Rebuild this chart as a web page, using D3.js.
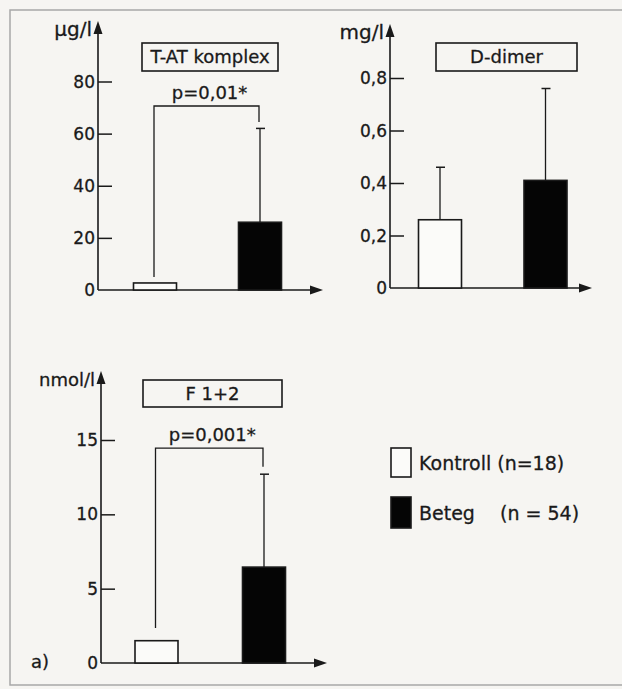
<!DOCTYPE html>
<meta charset="utf-8">
<script src="https://d3js.org/d3.v7.min.js"></script>
<style>
  body { margin: 0; background: #f6f5f2; }
  text { font-family: "DejaVu Sans", sans-serif; fill: #1a1a1a; stroke: #1a1a1a; stroke-width: 0.3px; }
</style>
<div id="chart"></div>
<script>

// groups (bars) in every panel
var groups = ["Kontroll", "Beteg"];

// T-AT komplex (µg/l)
var tatMean = [2.7, 26];
var tatTop = [null, 62];
var tatTicks = [0, 20, 40, 60, 80];

// D-dimer (mg/l)
var ddMean = [0.26, 0.41];
var ddTop = [0.46, 0.76];
var ddTicks = [0, 0.2, 0.4, 0.6, 0.8];

// F 1+2 (nmol/l)
var fMean = [1.5, 6.45];
var fTop = [null, 12.7];
var fTicks = [0, 5, 10, 15];

// legend
var legendLabels = ["Kontroll (n=18)", "Beteg"];
var legendN = [null, "(n = 54)"];

var W = 622, H = 689;
var svg = d3.select("#chart").append("svg")
    .attr("width", W).attr("height", H);

// page frame
svg.append("path")
    .attr("d", "M622,10 H10 V685 H622")
    .attr("fill", "none").attr("stroke", "#a8a8a8").attr("stroke-width", 1.5);

var ink = "#1a1a1a";
var fmt = function(d) { return d === 0 ? "0" : d3.format("")(d).replace(".", ","); };

function panel(p) {
  var g = svg.append("g");

  var y = d3.scaleLinear().domain([0, p.ymax]).range([p.zeroY, p.topY]);
  var x = d3.scalePoint().domain(groups).range([p.axisX + p.c0, p.axisX + p.c1]);
  var bw = 43;

  // ticks (inside)
  var axis = d3.axisRight(y).tickValues(p.ticks).tickSize(14).tickFormat("");
  var ag = g.append("g").attr("transform", "translate(" + p.axisX + ",0)").call(axis);
  ag.select(".domain").remove();
  ag.selectAll("line").attr("stroke", ink).attr("stroke-width", 1.5);
  ag.selectAll(".tick").filter(function(d) { return d === 0; }).select("line").remove();

  g.selectAll(".tl").data(p.ticks).enter().append("text")
      .attr("x", p.axisX - 3).attr("y", function(d) { return y(d); })
      .attr("dy", "0.36em").attr("text-anchor", "end")
      .style("font-size", "17px").text(fmt);

  // axes with arrows
  g.append("line").attr("x1", p.axisX).attr("x2", p.axisX)
      .attr("y1", p.zeroY).attr("y2", p.arrowY + 8)
      .attr("stroke", ink).attr("stroke-width", 1.6);
  g.append("path")
      .attr("d", "M" + p.axisX + "," + p.arrowY + " l-4.5,13 h9 Z").attr("fill", ink);
  g.append("line").attr("x1", p.axisX).attr("x2", p.xEnd - 8)
      .attr("y1", p.zeroY).attr("y2", p.zeroY)
      .attr("stroke", ink).attr("stroke-width", 1.6);
  g.append("path")
      .attr("d", "M" + p.xEnd + "," + p.zeroY + " l-13,-4.5 v9 Z").attr("fill", ink);

  // unit label
  g.append("text").attr("x", p.axisX - 6).attr("y", p.arrowY + 15)
      .attr("text-anchor", "end").style("font-size", p.unitSize + "px").text(p.unit);

  // title box
  g.append("rect").attr("x", p.box[0]).attr("y", p.box[1])
      .attr("width", p.box[2]).attr("height", p.box[3])
      .attr("fill", "none").attr("stroke", ink).attr("stroke-width", 1.6);
  g.append("text").attr("x", p.box[0] + p.box[2] / 2).attr("y", p.box[1] + p.box[3] / 2)
      .attr("dy", "0.36em").attr("text-anchor", "middle")
      .style("font-size", "18px").text(p.title);

  // error bars
  groups.forEach(function(k, i) {
    if (p.top[i] == null) return;
    g.append("line").attr("x1", x(k)).attr("x2", x(k))
        .attr("y1", y(p.mean[i])).attr("y2", y(p.top[i]))
        .attr("stroke", ink).attr("stroke-width", 1.3);
    g.append("line").attr("x1", x(k) - 4).attr("x2", x(k) + 5)
        .attr("y1", y(p.top[i])).attr("y2", y(p.top[i]))
        .attr("stroke", ink).attr("stroke-width", 1.5);
  });

  // bars
  g.selectAll(".bar").data(groups).enter().append("rect")
      .attr("x", function(k) { return x(k) - bw / 2; })
      .attr("y", function(k, i) { return y(p.mean[i]); })
      .attr("width", bw)
      .attr("height", function(k, i) { return p.zeroY - y(p.mean[i]); })
      .attr("fill", function(k, i) { return i === 0 ? "#fbfbf9" : "#050505"; })
      .attr("stroke", ink).attr("stroke-width", 1.6);

  // significance bracket
  if (p.sig) {
    var s = p.sig;
    g.append("path")
        .attr("d", "M" + (x(groups[0]) - 1) + "," + y(s.left) +
                   " V" + y(s.y) + " H" + (x(groups[1]) - 1) + " V" + y(s.right))
        .attr("fill", "none").attr("stroke", ink).attr("stroke-width", 1.3);
    g.append("text")
        .attr("x", (x(groups[0]) + x(groups[1])) / 2 + 2).attr("y", y(s.y) - 7)
        .attr("text-anchor", "middle").style("font-size", "18px")
        .text(s.label);
  }
}

panel({ axisX: 98, zeroY: 290, topY: 81.5, ymax: 80, arrowY: 21, xEnd: 323, c0: 57, c1: 162,
        ticks: tatTicks, mean: tatMean, top: tatTop, unit: "µg/l", unitSize: 20,
        title: "T-AT komplex", box: [142, 43, 136, 28],
        sig: { y: 70.6, left: 5, right: 64.5, label: "p=0,01*" } });

panel({ axisX: 390, zeroY: 288, topY: 78, ymax: 0.8, arrowY: 24, xEnd: 592, c0: 50, c1: 155.5,
        ticks: ddTicks, mean: ddMean, top: ddTop, unit: "mg/l", unitSize: 20,
        title: "D-dimer", box: [436, 43, 141, 28] });

panel({ axisX: 101, zeroY: 663, topY: 440, ymax: 15, arrowY: 371, xEnd: 327, c0: 55.5, c1: 163,
        ticks: fTicks, mean: fMean, top: fTop, unit: "nmol/l", unitSize: 18,
        title: "F 1+2", box: [143, 380, 139, 27],
        sig: { y: 14.45, left: 2.35, right: 13.2, label: "p=0,001*" } });

// "a)" label
svg.append("text").attr("x", 31).attr("y", 668).style("font-size", "18px").text("a)");

// legend
var lg = svg.append("g");
lg.selectAll("rect").data(legendLabels).enter().append("rect")
    .attr("x", 391).attr("y", function(d, i) { return 448 + i * 49; })
    .attr("width", 20).attr("height", function(d, i) { return i === 0 ? 29 : 31; })
    .attr("fill", function(d, i) { return i === 0 ? "#fbfbf9" : "#050505"; })
    .attr("stroke", ink).attr("stroke-width", 1.6);
lg.selectAll(".lt").data(legendLabels).enter().append("text")
    .attr("x", 419).attr("y", function(d, i) { return 470 + i * 50; })
    .style("font-size", "19px").text(function(d) { return d; });
lg.selectAll(".ln").data(legendN).enter().append("text")
    .filter(function(d) { return d != null; })
    .attr("x", 500).attr("y", 520)
    .style("font-size", "19px").text(function(d) { return d; });

</script>
